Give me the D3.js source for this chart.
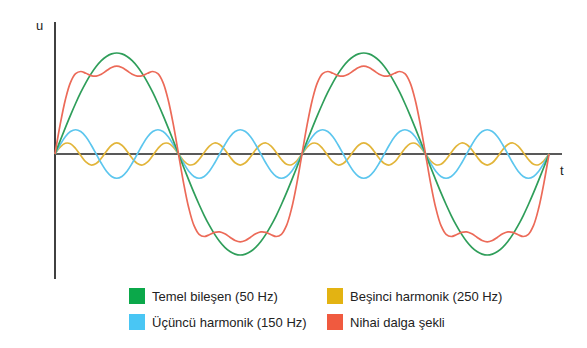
<!DOCTYPE html>
<html><head><meta charset="utf-8">
<script src="https://cdn.jsdelivr.net/npm/d3@7"></script>
<style>body{margin:0;background:#fff}svg{display:block}</style>
</head><body><svg id="c" width="587" height="348"></svg>
<script>
// Sample positions: phase angle of the fundamental in degrees (7.5° steps, two periods)
const angles = [0,7.5,15,22.5,30,37.5,45,52.5,60,67.5,75,82.5,90,97.5,105,112.5,120,127.5,135,142.5,150,157.5,165,172.5,180,
187.5,195,202.5,210,217.5,225,232.5,240,247.5,255,262.5,270,277.5,285,292.5,300,307.5,315,322.5,330,337.5,345,352.5,360,
367.5,375,382.5,390,397.5,405,412.5,420,427.5,435,442.5,450,457.5,465,472.5,480,487.5,495,502.5,510,517.5,525,532.5,540,
547.5,555,562.5,570,577.5,585,592.5,600,607.5,615,622.5,630,637.5,645,652.5,660,667.5,675,682.5,690,697.5,705,712.5,720];

const fundamental = [0,.131,.259,.383,.5,.609,.707,.793,.866,.924,.966,.991,1,.991,.966,.924,.866,.793,.707,.609,.5,.383,.259,.131,0,
-.131,-.259,-.383,-.5,-.609,-.707,-.793,-.866,-.924,-.966,-.991,-1,-.991,-.966,-.924,-.866,-.793,-.707,-.609,-.5,-.383,-.259,-.131,0,
.131,.259,.383,.5,.609,.707,.793,.866,.924,.966,.991,1,.991,.966,.924,.866,.793,.707,.609,.5,.383,.259,.131,0,
-.131,-.259,-.383,-.5,-.609,-.707,-.793,-.866,-.924,-.966,-.991,-1,-.991,-.966,-.924,-.866,-.793,-.707,-.609,-.5,-.383,-.259,-.131,0];

const third = [0,.092,.170,.222,.24,.222,.170,.092,0,-.092,-.170,-.222,-.24,-.222,-.170,-.092,0,.092,.170,.222,.24,.222,.170,.092,0,
-.092,-.170,-.222,-.24,-.222,-.170,-.092,0,.092,.170,.222,.24,.222,.170,.092,0,-.092,-.170,-.222,-.24,-.222,-.170,-.092,0,
.092,.170,.222,.24,.222,.170,.092,0,-.092,-.170,-.222,-.24,-.222,-.170,-.092,0,.092,.170,.222,.24,.222,.170,.092,0,
-.092,-.170,-.222,-.24,-.222,-.170,-.092,0,.092,.170,.222,.24,.222,.170,.092,0,-.092,-.170,-.222,-.24,-.222,-.170,-.092,0];

const fifth = [0,.067,.106,.102,.055,-.014,-.078,-.109,-.095,-.042,.028,.087,.11,.087,.028,-.042,-.095,-.109,-.078,-.014,.055,.102,.106,.067,0,
-.067,-.106,-.102,-.055,.014,.078,.109,.095,.042,-.028,-.087,-.11,-.087,-.028,.042,.095,.109,.078,.014,-.055,-.102,-.106,-.067,0,
.067,.106,.102,.055,-.014,-.078,-.109,-.095,-.042,.028,.087,.11,.087,.028,-.042,-.095,-.109,-.078,-.014,.055,.102,.106,.067,0,
-.067,-.106,-.102,-.055,.014,.078,.109,.095,.042,-.028,-.087,-.11,-.087,-.028,.042,.095,.109,.078,.014,-.055,-.102,-.106,-.067,0];

const resultant = [0,.290,.535,.707,.795,.817,.799,.776,.771,.790,.824,.856,.870,.856,.824,.790,.771,.776,.799,.817,.795,.707,.535,.290,0,
-.290,-.535,-.707,-.795,-.817,-.799,-.776,-.771,-.790,-.824,-.856,-.870,-.856,-.824,-.790,-.771,-.776,-.799,-.817,-.795,-.707,-.535,-.290,0,
.290,.535,.707,.795,.817,.799,.776,.771,.790,.824,.856,.870,.856,.824,.790,.771,.776,.799,.817,.795,.707,.535,.290,0,
-.290,-.535,-.707,-.795,-.817,-.799,-.776,-.771,-.790,-.824,-.856,-.870,-.856,-.824,-.790,-.771,-.776,-.799,-.817,-.795,-.707,-.535,-.290,0];

const seriesNames = ["Temel bileşen (50 Hz)", "Üçüncü harmonik (150 Hz)", "Beşinci harmonik (250 Hz)", "Nihai dalga şekli"];
const seriesColors = ["#0ba84a", "#49c6f4", "#e3b312", "#f05a3f"];
const lineColors = ["#2f9e5a", "#5cc6ee", "#e2b53a", "#ec6a58"];

const svg = d3.select("#c");
const x = d3.scaleLinear().domain([0, 720]).range([55, 549]);
const y = d3.scaleLinear().domain([-1, 1]).range([255, 53]);

// axes
svg.append("line").attr("x1", 55).attr("x2", 55).attr("y1", 22).attr("y2", 279)
  .attr("stroke", "#111").attr("stroke-width", 1.6);
svg.append("line").attr("x1", 55).attr("x2", 562).attr("y1", y(0)).attr("y2", y(0))
  .attr("stroke", "#222").attr("stroke-width", 1.6);
svg.append("text").attr("x", 36).attr("y", 30).text("u")
  .attr("font-family", "Liberation Sans, Arial, sans-serif").attr("font-size", 13).attr("fill", "#222");
svg.append("text").attr("x", 560).attr("y", 175).text("t")
  .attr("font-family", "Liberation Sans, Arial, sans-serif").attr("font-size", 13).attr("fill", "#222");

const line = d3.line().x(d => x(d[0])).y(d => y(d[1])).curve(d3.curveCatmullRom.alpha(0.5));
const order = [[fifth, 2], [third, 1], [fundamental, 0], [resultant, 3]];
order.forEach(([vals, i]) => {
  svg.append("path").datum(angles.map((a, k) => [a, vals[k]]))
    .attr("d", line).attr("fill", "none").attr("stroke", lineColors[i]).attr("stroke-width", 1.7);
});

// legend
const legPos = [[129, 288], [129, 314], [327, 288], [327, 314]];
seriesNames.forEach((n, i) => {
  const g = svg.append("g").attr("transform", `translate(${legPos[i][0]},${legPos[i][1]})`);
  g.append("rect").attr("width", 16).attr("height", 16).attr("fill", seriesColors[i]);
  g.append("text").attr("x", 23).attr("y", 13).text(n)
    .attr("font-family", "Liberation Sans, Arial, sans-serif").attr("font-size", 13).attr("fill", "#222");
});
</script></body></html>
